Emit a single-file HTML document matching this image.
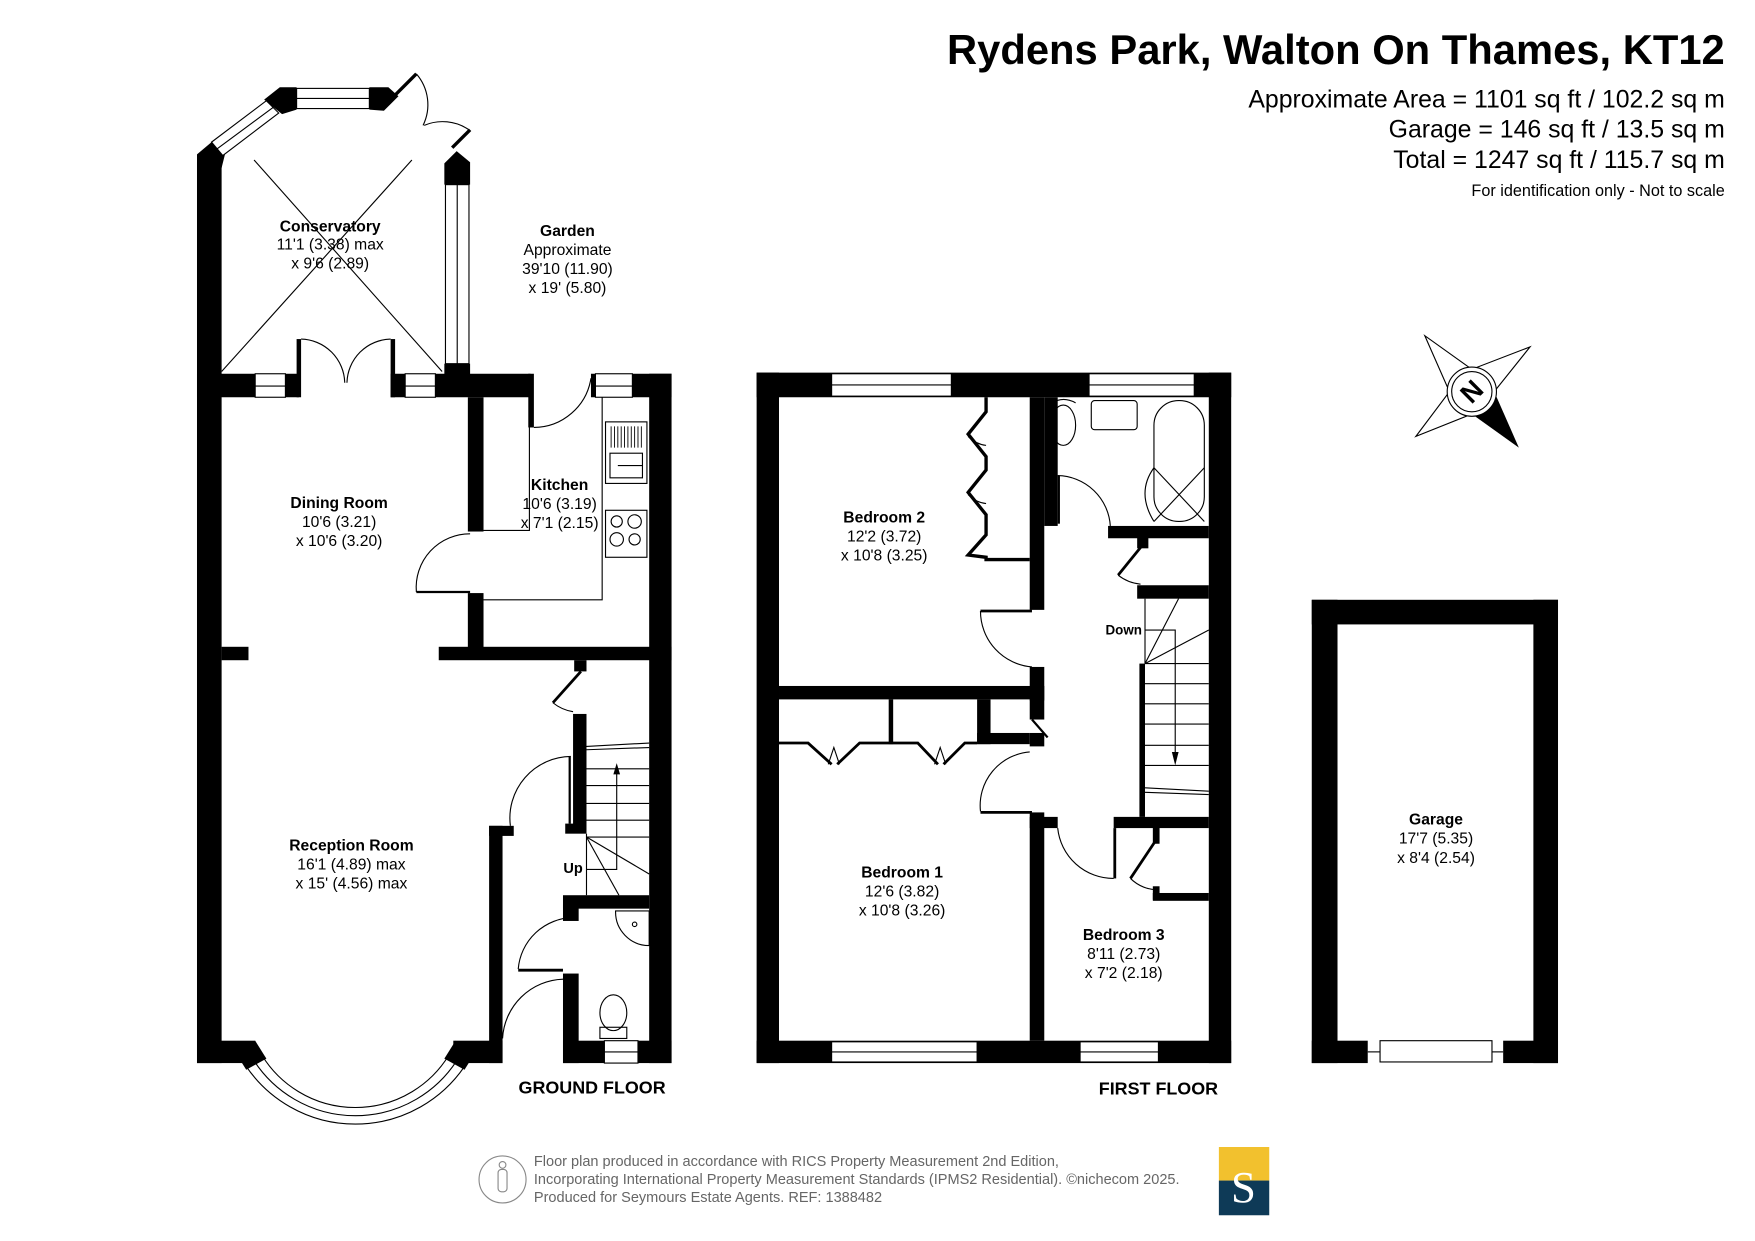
<!DOCTYPE html>
<html><head><meta charset="utf-8"><style>
html,body{margin:0;padding:0;background:#fff;}
svg{display:block;}
text{font-family:"Liberation Sans",Arial,sans-serif;}
.t{font-size:14px;text-anchor:middle;fill:#000;}
.b{font-weight:bold;}
.l{fill:none;stroke:#000;stroke-width:1;}
.w{fill:#fff;stroke:#000;stroke-width:1;}
.k{fill:#000;}
</style></head><body>
<svg width="1755" height="1241" viewBox="0 0 1568 1109" preserveAspectRatio="none" xmlns="http://www.w3.org/2000/svg">
<rect width="1568" height="1109" fill="#fff"/>
<text x="1541" y="57" style="font-size:37.3px;font-weight:bold;text-anchor:end">Rydens Park, Walton On Thames, KT12</text>
<text x="1541" y="96" style="font-size:22.2px;text-anchor:end">Approximate Area = 1101 sq ft / 102.2 sq m</text>
<text x="1541" y="123" style="font-size:22.2px;text-anchor:end">Garage = 146 sq ft / 13.5 sq m</text>
<text x="1541" y="150" style="font-size:22.2px;text-anchor:end">Total = 1247 sq ft / 115.7 sq m</text>
<text x="1541" y="175" style="font-size:14.5px;text-anchor:end">For identification only - Not to scale</text>

<g>
<rect class="k" x="176" y="145" width="22" height="805"/>
<polygon class="k" points="176,138 189,127 201,138 198,150 176,150"/>
<polygon class="w" points="189,127 238,90 249,101 199,139"/>
<line class="l" x1="194" y1="133" x2="244" y2="96"/>
<polygon class="k" points="236,89 250,78 265,78 265,98 252,102"/>
<rect class="w" x="265" y="79" width="65" height="18"/>
<line class="l" x1="265" y1="88" x2="330" y2="88"/>
<polygon class="k" points="330,78 347,78 356,86 343,99 330,98"/>
<line x1="348" y1="90" x2="372" y2="66" stroke="#000" stroke-width="3"/>
<path class="l" d="M372,66 A42,42 0 0 1 378,112"/>
<line x1="404" y1="132" x2="420" y2="116" stroke="#000" stroke-width="3"/>
<path class="l" d="M419,116 A42,42 0 0 0 379,112"/>
<polygon class="k" points="397,146 408,135 420,145 420,165 397,165"/>
<rect class="w" x="398" y="165" width="21" height="160"/>
<line class="l" x1="408.5" y1="165" x2="408.5" y2="325"/>
<rect class="k" x="397" y="325" width="23" height="12"/>
<line class="l" x1="198" y1="332" x2="368" y2="143"/>
<line class="l" x1="227" y1="143" x2="395" y2="332"/>
<rect class="k" x="176" y="334" width="52" height="21"/>
<rect class="w" x="228" y="334" width="27" height="21"/>
<line class="l" x1="228" y1="345" x2="255" y2="345"/>
<rect class="k" x="255" y="334" width="12" height="21"/>
<rect class="k" x="265" y="303" width="4" height="52"/>
<rect class="k" x="349" y="303" width="4" height="52"/>
<path class="l" d="M269,303 A40,40 0 0 1 308,342"/>
<path class="l" d="M349,303 A40,40 0 0 0 310,342"/>
<rect class="k" x="349" y="334" width="13" height="21"/>
<rect class="w" x="362" y="334" width="27" height="21"/>
<line class="l" x1="362" y1="345" x2="389" y2="345"/>
<rect class="k" x="389" y="334" width="85" height="21"/>
<rect class="k" x="472" y="334" width="5" height="48"/>
<path class="l" d="M477,382 A52,52 0 0 0 528,338"/>
<rect class="k" x="528" y="334" width="4" height="21"/>
<rect class="w" x="532" y="334" width="33" height="21"/>
<line class="l" x1="532" y1="345" x2="565" y2="345"/>
<rect class="k" x="565" y="334" width="35" height="21"/>
<rect class="k" x="580" y="334" width="20" height="616"/>
<rect class="k" x="418" y="355" width="14" height="120"/>
<rect class="k" x="418" y="530" width="14" height="50"/>
<line x1="372" y1="529" x2="420" y2="529" stroke="#000" stroke-width="2"/>
<path class="l" d="M372,529 A48,48 0 0 1 420,477"/>
<polyline class="l" points="432,474 473,474 473,355"/>
<polyline class="l" points="432,536 538,536 538,355"/>
<rect class="w" x="541" y="377" width="37" height="55"/>
<g stroke="#000" stroke-width="0.8">
<line x1="546" y1="381" x2="546" y2="400"/><line x1="549" y1="381" x2="549" y2="400"/><line x1="552" y1="381" x2="552" y2="400"/><line x1="555" y1="381" x2="555" y2="400"/><line x1="558" y1="381" x2="558" y2="400"/><line x1="561" y1="381" x2="561" y2="400"/><line x1="564" y1="381" x2="564" y2="400"/><line x1="567" y1="381" x2="567" y2="400"/><line x1="570" y1="381" x2="570" y2="400"/><line x1="573" y1="381" x2="573" y2="400"/>
</g>
<rect class="l" x="545" y="405" width="29" height="22"/>
<line class="l" x1="552" y1="416" x2="574" y2="416"/>
<rect class="w" x="541" y="456" width="37" height="42"/>
<circle class="l" cx="551" cy="466" r="5"/><circle class="l" cx="567" cy="466" r="6"/>
<circle class="l" cx="551" cy="482" r="6"/><circle class="l" cx="567" cy="482" r="5"/>
<rect class="k" x="198" y="578" width="24" height="12"/>
<rect class="k" x="392" y="578" width="208" height="12"/>
<rect class="k" x="513" y="590" width="11" height="10"/>
<line x1="519" y1="600" x2="494" y2="628" stroke="#000" stroke-width="2.5"/>
<path class="l" d="M494,628 A38,38 0 0 0 512,636"/>
<rect class="k" x="512" y="638" width="12" height="106"/>
<rect class="k" x="505" y="736" width="19" height="9"/>
<line class="l" x1="524" y1="667" x2="580" y2="664"/>
<line class="l" x1="524" y1="670" x2="580" y2="668"/>
<g class="l"><line x1="524" y1="687" x2="580" y2="687"/><line x1="524" y1="702" x2="580" y2="702"/><line x1="524" y1="718" x2="580" y2="718"/><line x1="524" y1="733" x2="580" y2="733"/><line x1="524" y1="748" x2="580" y2="748"/></g>
<line class="l" x1="524" y1="745" x2="524" y2="800"/>
<line class="l" x1="524" y1="748" x2="580" y2="781"/>
<line class="l" x1="524" y1="748" x2="553" y2="800"/>
<polyline class="l" points="524,777 551,777 551,690"/>
<polygon class="k" points="548,692 551,682 554,692"/>
<text x="512" y="780" class="t b" style="font-size:13px">Up</text>
<path class="l" d="M456,738 A55,55 0 0 1 510,676"/>
<line x1="509" y1="676" x2="509" y2="736" stroke="#000" stroke-width="2"/>
<rect class="k" x="437" y="738" width="22" height="9"/>
<rect class="k" x="437" y="738" width="12" height="212"/>
<rect class="k" x="405" y="930" width="44" height="20"/>
<rect class="k" x="176" y="930" width="52" height="20"/>
<polygon class="k" points="210,940 228,930 238,946 220,956"/>
<polygon class="k" points="397,946 407,930 425,940 415,956"/>
<path class="l" d="M220,953 A118,118 0 0 0 415,953"/>
<path class="l" d="M227,948 A108,108 0 0 0 408,948"/>
<path class="l" d="M234,943 A98,98 0 0 0 401,943"/>
<rect class="k" x="503" y="800" width="77" height="12"/>
<rect class="k" x="503" y="808" width="14" height="15"/>
<path class="l" d="M463,866 A50,50 0 0 1 512,820"/>
<line x1="463" y1="867" x2="503" y2="867" stroke="#000" stroke-width="2.5"/>
<rect class="k" x="503" y="870" width="14" height="80"/>
<path class="l" d="M449,928 A56,56 0 0 1 503,875"/>
<rect class="k" x="503" y="930" width="37" height="20"/>
<rect class="w" x="540" y="930" width="30" height="20"/>
<line class="l" x1="540" y1="940" x2="570" y2="940"/>
<rect class="k" x="570" y="930" width="30" height="20"/>
<path class="l" d="M550,814 A30,30 0 0 0 580,845 L580,814 Z"/>
<circle class="l" cx="567" cy="826" r="2"/>
<ellipse class="l" cx="548" cy="905" rx="12" ry="16"/>
<rect class="l" x="536" y="918" width="24" height="10"/>
<text x="529" y="977" class="t b" style="font-size:16px">GROUND FLOOR</text>
</g>

<g>
<rect class="k" x="676" y="333" width="424" height="22"/>
<rect class="w" x="743" y="334" width="107" height="20"/>
<line class="l" x1="743" y1="344" x2="850" y2="344"/>
<rect class="w" x="973" y="334" width="94" height="20"/>
<line class="l" x1="973" y1="344" x2="1067" y2="344"/>
<rect class="k" x="676" y="333" width="20" height="617"/>
<rect class="k" x="1080" y="333" width="20" height="617"/>
<rect class="k" x="676" y="930" width="424" height="20"/>
<rect class="w" x="743" y="931" width="130" height="18"/>
<line class="l" x1="743" y1="940" x2="873" y2="940"/>
<rect class="w" x="965" y="931" width="70" height="18"/>
<line class="l" x1="965" y1="940" x2="1035" y2="940"/>
<polyline fill="none" stroke="#000" stroke-width="3" points="881,355 881,368 865,388 881,408 881,420 865,440 881,460 881,478 865,496 881,498 881,500 920,500"/>
<path class="l" d="M865,390 Q872,397 881,398 M865,442 Q872,449 881,450"/>
<rect class="k" x="920" y="355" width="13" height="190"/>
<path class="l" d="M876,546 A50,50 0 0 0 922,596"/>
<line x1="876" y1="546" x2="922" y2="546" stroke="#000" stroke-width="2.5"/>
<rect class="k" x="920" y="596" width="13" height="30"/>
<rect class="k" x="696" y="613" width="237" height="12"/>
<rect class="k" x="933" y="355" width="12" height="115"/>
<path class="l" d="M945,425 A48,48 0 0 1 992,470"/>
<line x1="946" y1="425" x2="946" y2="468" stroke="#000" stroke-width="2"/>
<rect class="k" x="990" y="470" width="90" height="11"/>
<rect class="k" x="1016" y="478" width="10" height="12"/>
<line x1="1020" y1="488" x2="999" y2="514" stroke="#000" stroke-width="2.5"/>
<path class="l" d="M999,514 A38,38 0 0 0 1019,522"/>
<rect class="k" x="1016" y="523" width="64" height="12"/>
<ellipse class="l" cx="950" cy="380" rx="11" ry="18"/>
<path class="l" d="M940,360 Q950,354 961,360"/>
<rect class="l" x="975" y="358" width="41" height="26" rx="3"/>
<rect class="l" x="1031" y="358" width="45" height="108" rx="22"/>
<path class="l" d="M1031,418 Q1015,440 1031,466"/>
<line class="l" x1="1031" y1="418" x2="1076" y2="466"/>
<line class="l" x1="1076" y1="418" x2="1031" y2="466"/>
<rect class="k" x="873" y="625" width="12" height="40"/>
<rect class="k" x="873" y="655" width="47" height="10"/>
<rect class="k" x="920" y="625" width="13" height="18"/>
<line x1="922" y1="643" x2="936" y2="659" stroke="#000" stroke-width="2"/>
<rect class="k" x="920" y="655" width="13" height="12"/>
<rect class="k" x="794" y="625" width="4" height="40"/>
<polyline fill="none" stroke="#000" stroke-width="2.5" points="696,664 722,664 743,683"/>
<polyline fill="none" stroke="#000" stroke-width="2.5" points="748,683 768,664 820,664 838,683"/>
<polyline fill="none" stroke="#000" stroke-width="2.5" points="843,683 862,664 873,664"/>
<path class="l" d="M740,683 L745,668 L750,683 M835,683 L840,668 L845,683"/>
<path class="l" d="M876,725 A48,48 0 0 1 920,672"/>
<line x1="876" y1="726" x2="922" y2="726" stroke="#000" stroke-width="2.5"/>
<rect class="k" x="920" y="726" width="13" height="204"/>
<rect class="k" x="920" y="730" width="25" height="10"/>
<path class="l" d="M945,740 A50,50 0 0 0 995,785"/>
<line x1="996" y1="740" x2="996" y2="785" stroke="#000" stroke-width="2.5"/>
<rect class="k" x="995" y="730" width="85" height="10"/>
<rect class="k" x="1030" y="738" width="6" height="16"/>
<line x1="1032" y1="752" x2="1010" y2="785" stroke="#000" stroke-width="2.5"/>
<path class="l" d="M1010,785 A35,35 0 0 0 1032,795"/>
<rect class="k" x="1030" y="792" width="6" height="12"/>
<rect class="k" x="1030" y="798" width="50" height="7"/>
<rect class="k" x="1018" y="593" width="5" height="137"/>
<line class="l" x1="1023" y1="535" x2="1023" y2="593"/>
<line class="l" x1="1023" y1="593" x2="1053" y2="535"/>
<line class="l" x1="1023" y1="593" x2="1080" y2="563"/>
<g class="l"><line x1="1023" y1="593" x2="1080" y2="593"/><line x1="1023" y1="611" x2="1080" y2="611"/><line x1="1023" y1="629" x2="1080" y2="629"/><line x1="1023" y1="647" x2="1080" y2="647"/><line x1="1023" y1="666" x2="1080" y2="666"/><line x1="1023" y1="684" x2="1080" y2="684"/></g>
<line class="l" x1="1023" y1="704" x2="1080" y2="707"/>
<line class="l" x1="1023" y1="708" x2="1080" y2="710"/>
<polyline class="l" points="1023,563 1050,563 1050,680"/>
<polygon class="k" points="1047,672 1050,684 1053,672"/>
<text x="1004" y="567" class="t b" style="font-size:12px">Down</text>
<text x="1035" y="978" class="t b" style="font-size:16px">FIRST FLOOR</text>
</g>

<rect class="k" x="1172" y="536" width="220" height="22"/>
<rect class="k" x="1172" y="536" width="23" height="414"/>
<rect class="k" x="1370" y="536" width="22" height="414"/>
<rect class="k" x="1172" y="930" width="50" height="20"/>
<rect class="k" x="1343" y="930" width="49" height="20"/>
<rect class="w" x="1233" y="930" width="100" height="19"/>
<line class="l" x1="1222" y1="940" x2="1233" y2="940"/>
<line class="l" x1="1333" y1="940" x2="1343" y2="940"/>

<g transform="translate(1315,350)">
<polygon class="w" points="0,-20 -42,-50 -20,0"/>
<polygon class="w" points="20,0 52,-40 0,-20"/>
<polygon class="w" points="-20,0 -50,40 0,20"/>
<polygon class="k" points="0,20 42,50 20,0"/>
<circle class="w" r="22"/>
<circle class="l" r="18"/>
<text x="0" y="8" transform="rotate(-45)" style="font-size:24px;font-weight:bold;text-anchor:middle">N</text>
</g>

<text x="295" y="207" class="t b">Conservatory</text>
<text x="295" y="223" class="t">11'1 (3.38) max</text>
<text x="295" y="240" class="t">x 9'6 (2.89)</text>
<text x="507" y="211" class="t b">Garden</text>
<text x="507" y="228" class="t">Approximate</text>
<text x="507" y="245" class="t">39'10 (11.90)</text>
<text x="507" y="262" class="t">x 19' (5.80)</text>
<text x="303" y="454" class="t b">Dining Room</text>
<text x="303" y="471" class="t">10'6 (3.21)</text>
<text x="303" y="488" class="t">x 10'6 (3.20)</text>
<text x="500" y="438" class="t b">Kitchen</text>
<text x="500" y="455" class="t">10'6 (3.19)</text>
<text x="500" y="472" class="t">x 7'1 (2.15)</text>
<text x="314" y="760" class="t b">Reception Room</text>
<text x="314" y="777" class="t">16'1 (4.89) max</text>
<text x="314" y="794" class="t">x 15' (4.56) max</text>
<text x="790" y="467" class="t b">Bedroom 2</text>
<text x="790" y="484" class="t">12'2 (3.72)</text>
<text x="790" y="501" class="t">x 10'8 (3.25)</text>
<text x="806" y="784" class="t b">Bedroom 1</text>
<text x="806" y="801" class="t">12'6 (3.82)</text>
<text x="806" y="818" class="t">x 10'8 (3.26)</text>
<text x="1004" y="840" class="t b">Bedroom 3</text>
<text x="1004" y="857" class="t">8'11 (2.73)</text>
<text x="1004" y="874" class="t">x 7'2 (2.18)</text>
<text x="1283" y="737" class="t b">Garage</text>
<text x="1283" y="754" class="t">17'7 (5.35)</text>
<text x="1283" y="771" class="t">x 8'4 (2.54)</text>

<circle cx="449" cy="1054" r="21" fill="none" stroke="#888" stroke-width="1"/>
<circle cx="449" cy="1041" r="3" fill="none" stroke="#888"/>
<rect x="445" y="1045" width="8" height="20" rx="3" fill="none" stroke="#888"/>
<g style="font-size:13px;fill:#666">
<text x="477" y="1042">Floor plan produced in accordance with RICS Property Measurement 2nd Edition,</text>
<text x="477" y="1058">Incorporating International Property Measurement Standards (IPMS2 Residential).  ©nichecom 2025.</text>
<text x="477" y="1074">Produced for Seymours Estate Agents.   REF: 1388482</text>
</g>
<rect x="1089" y="1025" width="45" height="30" fill="#f2c12e"/>
<rect x="1089" y="1055" width="45" height="31" fill="#0e3a57"/>
<text x="1111" y="1074" style="font-family:'Liberation Serif',serif;font-size:40px;fill:#fff;text-anchor:middle">S</text>
</svg>
</body></html>
